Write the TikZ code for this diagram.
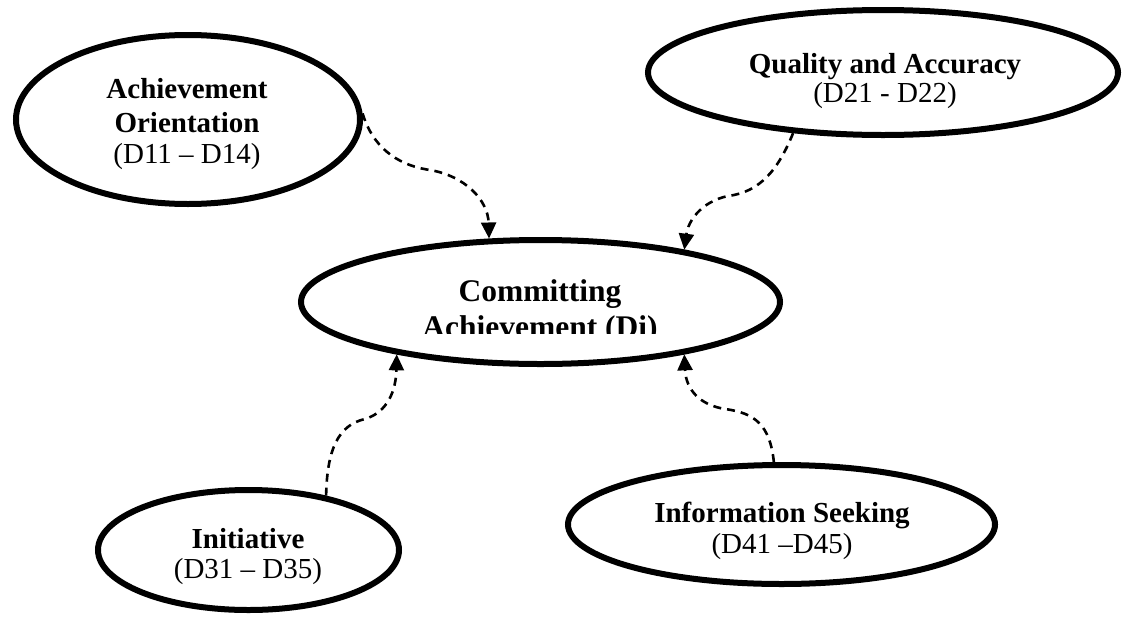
\documentclass[tikz,border=0pt]{standalone}
\usepackage{fontspec}
\setmainfont{Liberation Serif}
\usetikzlibrary{shapes.geometric,arrows.meta}
\begin{document}
\begin{tikzpicture}[x=1pt,y=-1pt]
\tikzset{
  construct/.style={ellipse, draw, line width=6pt, inner sep=0pt},
  titletext/.style={font=\fontsize{29}{34}\selectfont\bfseries, anchor=base, inner sep=0pt},
  codetext/.style={font=\fontsize{29}{34}\selectfont, anchor=base, inner sep=0pt},
  maintitle/.style={font=\fontsize{31.5}{36}\selectfont\bfseries, anchor=base, inner sep=0pt},
  link/.style={dash pattern=on 8pt off 6pt, line width=2.6pt,
               -{Triangle[length=16pt,width=15pt]}},
}
\fill[white] (0,0) rectangle (1129,616);
\useasboundingbox (0,0) rectangle (1129,616);

% constructs
\node[construct, minimum width=344pt, minimum height=169pt] (ao) at (188,119.5) {};
\node[construct, minimum width=470pt, minimum height=125pt] (qa) at (883,72.5) {};
\node[construct, minimum width=479pt, minimum height=124pt] (ca) at (540.5,302) {};
\node[construct, minimum width=301pt, minimum height=120pt] (in) at (248.5,550) {};
\node[construct, minimum width=427pt, minimum height=119pt] (is) at (781.5,524.5) {};

% labels
\node[titletext] (ao1) at (187,98) {Achievement};
\node[titletext] (ao2) at (187,132) {Orientation};
\node[codetext] (ao3) at (187,163) {(D11 -- D14)};

\node[titletext] (qa1) at (885,73) {Quality and Accuracy};
\node[codetext] (qa2) at (885,102) {(D21 - D22)};

\begin{scope}
  \clip (300,240) rectangle (780,333.5);
  \node[maintitle] (ca1) at (540,301) {Committing};
  \node[maintitle] (ca2) at (540,337) {Achievement (Di)};
\end{scope}

\node[titletext] (in1) at (248,548) {Initiative};
\node[codetext] (in2) at (248,578) {(D31 -- D35)};

\node[titletext] (is1) at (782,522) {Information Seeking};
\node[codetext] (is2) at (782,553) {(D41 --D45)};

% dimension links
\draw[link] (ao.2) .. controls (372,145) and (395,165) .. (430,170)
  .. controls (465,176) and (488,200) .. (ca.129);
\draw[link] (qa.214) .. controls (778,170) and (760,192) .. (728,196)
  .. controls (700,202) and (688,222) .. (ca.20);
\draw[link] (in.35) .. controls (327,450) and (338,425) .. (365,419)
  .. controls (388,412) and (396,390) .. (ca.200);
\draw[link] (is.97) .. controls (770,425) and (755,413) .. (725,409)
  .. controls (700,405) and (686,390) .. (ca.-20);
\end{tikzpicture}
\end{document}
